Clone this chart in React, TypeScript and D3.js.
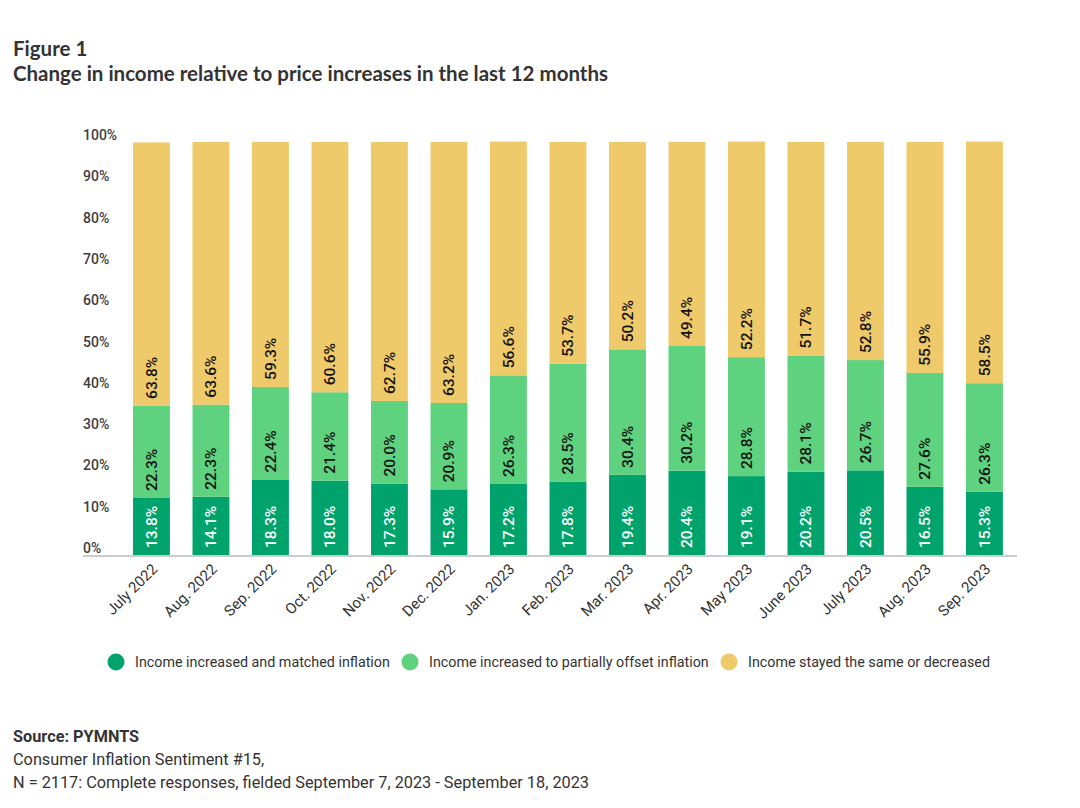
import React, { useRef, useEffect } from 'react';
import * as d3 from 'd3';

const months = [
  'July 2022', 'Aug. 2022', 'Sep. 2022', 'Oct. 2022', 'Nov. 2022', 'Dec. 2022',
  'Jan. 2023', 'Feb. 2023', 'Mar. 2023', 'Apr. 2023', 'May 2023', 'June 2023',
  'July 2023', 'Aug. 2023', 'Sep. 2023',
];
const matched = [13.8, 14.1, 18.3, 18.0, 17.3, 15.9, 17.2, 17.8, 19.4, 20.4, 19.1, 20.2, 20.5, 16.5, 15.3];
const partial = [22.3, 22.3, 22.4, 21.4, 20.0, 20.9, 26.3, 28.5, 30.4, 30.2, 28.8, 28.1, 26.7, 27.6, 26.3];
const same = [63.8, 63.6, 59.3, 60.6, 62.7, 63.2, 56.6, 53.7, 50.2, 49.4, 52.2, 51.7, 52.8, 55.9, 58.5];
const seriesNames = [
  'Income increased and matched inflation',
  'Income increased to partially offset inflation',
  'Income stayed the same or decreased',
];
const yTicks = [0, 10, 20, 30, 40, 50, 60, 70, 80, 90, 100];

const colors = ['#00a36c', '#5ed27f', '#efca6a'];
const labelColors = ['#ffffff', '#111111', '#111111'];
const FONT = 'Roboto, sans-serif';

const App: React.FC = () => {
  const ref = useRef<SVGSVGElement | null>(null);

  useEffect(() => {
    if (!ref.current) return;
    const svg = d3.select(ref.current);
    svg.selectAll('*').remove();

    // title
    svg.append('text').attr('x', 13).attr('y', 56)
      .attr('font-family', 'Lato, sans-serif').attr('font-weight', 700)
      .attr('font-size', 20.5).attr('fill', '#333').text('Figure 1');
    svg.append('text').attr('x', 13).attr('y', 81)
      .attr('font-family', 'Lato, sans-serif').attr('font-weight', 700)
      .attr('font-size', 20.5).attr('fill', '#333')
      .text('Change in income relative to price increases in the last 12 months');

    const table = months.map((m, i) => ({ month: m, s0: matched[i], s1: partial[i], s2: same[i] }));
    const stack = d3.stack<any>().keys(['s0', 's1', 's2'])(table);

    const x = d3.scaleBand().domain(months).range([121.7, 1014.2]).paddingInner(0.38).paddingOuter(0.19);
    const y = d3.scaleLinear().domain([0, 100]).range([555, 142]);

    // y tick labels
    svg.append('g').selectAll('text').data(yTicks).join('text')
      .attr('x', 83).attr('y', (d) => y(d) - 2)
      .attr('font-family', FONT).attr('font-size', 14).attr('font-weight', 500)
      .attr('fill', '#3d3d3d').text((d) => `${d}%`);

    // bars
    stack.forEach((layer, li) => {
      const g = svg.append('g');
      g.selectAll('rect').data(layer).join('rect')
        .attr('x', (d: any) => x(d.data.month) as number)
        .attr('width', x.bandwidth())
        .attr('y', (d: any) => y(d[1]))
        .attr('height', (d: any) => y(d[0]) - y(d[1]))
        .attr('fill', colors[li]);
      g.selectAll('text').data(layer).join('text')
        .attr('transform', (d: any) => {
          const cx = (x(d.data.month) as number) + x.bandwidth() / 2 + 5.5;
          return `translate(${cx},${y(d[0]) - 7}) rotate(-90)`;
        })
        .attr('font-family', FONT).attr('font-size', 15.5).attr('font-weight', 500)
        .attr('fill', labelColors[li])
        .text((d: any) => `${(d[1] - d[0]).toFixed(1)}%`);
    });

    // baseline
    svg.append('line').attr('x1', 83).attr('x2', 1017).attr('y1', 556).attr('y2', 556)
      .attr('stroke', '#cccccc').attr('stroke-width', 2);

    // x labels
    svg.append('g').selectAll('text').data(months).join('text')
      .attr('transform', (d) => `translate(${(x(d) as number) + x.bandwidth() / 2 + 7},${570}) rotate(-45)`)
      .attr('text-anchor', 'end')
      .attr('font-family', FONT).attr('font-size', 15).attr('fill', '#333')
      .text((d) => d);

    // legend
    const legendX = [116, 410, 729];
    const lg = svg.append('g');
    seriesNames.forEach((name, i) => {
      lg.append('circle').attr('cx', legendX[i]).attr('cy', 662).attr('r', 8.5).attr('fill', colors[i]);
      lg.append('text').attr('x', legendX[i] + 19).attr('y', 667)
        .attr('font-family', FONT).attr('font-size', 14.3).attr('fill', '#333').text(name);
    });

    // source
    const src = svg.append('g').attr('font-family', FONT).attr('font-size', 16.3).attr('fill', '#333');
    src.append('text').attr('x', 13).attr('y', 742).attr('font-weight', 700).text('Source: PYMNTS');
    src.append('text').attr('x', 13).attr('y', 765).text('Consumer Inflation Sentiment #15,');
    src.append('text').attr('x', 13).attr('y', 788)
      .text('N = 2117: Complete responses, fielded September 7, 2023 - September 18, 2023');
  }, []);

  return (
    <div style={{ margin: -8 }}>
      <svg ref={ref} width={1080} height={808} style={{ display: 'block', background: '#fff' }} />
    </div>
  );
};

export default App;
